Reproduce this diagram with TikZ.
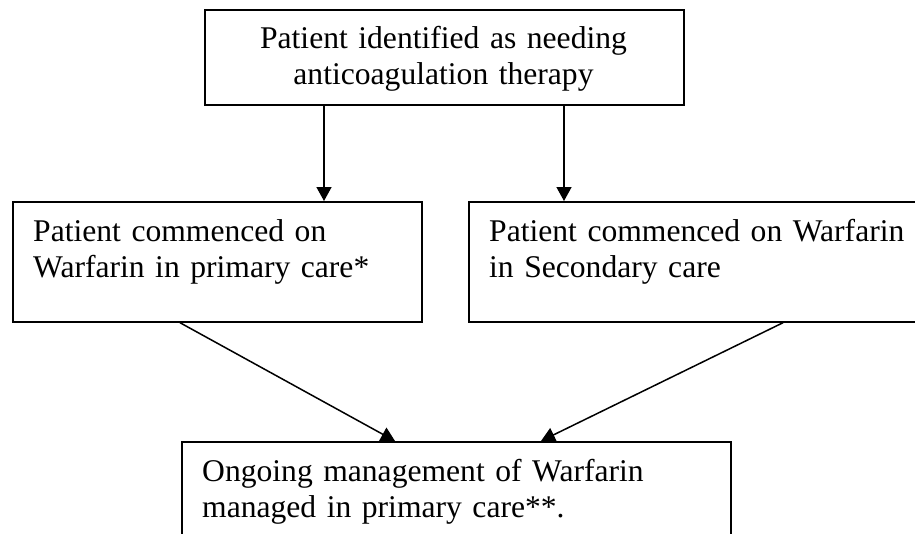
\documentclass[tikz,border=0pt]{standalone}
\usepackage{fontspec}
\setmainfont{Liberation Serif}
\usetikzlibrary{arrows.meta}
\begin{document}
\begin{tikzpicture}[x=1pt,y=-1pt,
  box/.style={draw=black, line width=1.7pt, fill=white, inner sep=0pt, anchor=north west, rectangle},
  txt/.style={inner sep=0pt, font=\fontsize{31.6}{36}\selectfont, text=black},
  arr/.style={draw=black, line width=1.5pt, -{Triangle[length=14pt,width=15pt]}}]
\useasboundingbox (0,0) rectangle (915,533);
\clip (0,0) rectangle (915,533);
\fill[white] (0,0) rectangle (915,533);
% boxes
\node[box, minimum width=479pt, minimum height=95pt] (top) at (204,9) {};
\node[box, minimum width=409pt, minimum height=120pt] (lbox) at (12,201) {};
\node[box, minimum width=492pt, minimum height=120pt] (rbox) at (468,201) {};
\node[box, minimum width=549pt, minimum height=160pt] (bbox) at (181,441) {};
% texts
\node[txt, anchor=base, text width=470pt, align=center] (ttext) at (443.5,48)
  {Patient identified as needing\\anticoagulation therapy};
\node[txt, anchor=base west, text width=385pt, align=left] (ltext) at (33,241)
  {Patient commenced on\\Warfarin in primary care*};
\node[txt, anchor=base west, text width=430pt, align=left] (rtext) at (489,241)
  {Patient commenced on Warfarin\\in Secondary care};
\node[txt, anchor=base west, text width=520pt, align=left] (btext) at (202,481)
  {Ongoing management of Warfarin\\managed in primary care**.};
% connectors
\draw[arr] ([xshift=120pt]top.south west) -- ([xshift=312pt]lbox.north west);
\draw[arr] ([xshift=360pt]top.south west) -- ([xshift=96pt]rbox.north west);
\draw[arr] ([xshift=168pt]lbox.south west) -- ([xshift=214pt]bbox.north west);
\draw[arr] ([xshift=315pt]rbox.south west) -- ([xshift=360pt]bbox.north west);
\end{tikzpicture}
\end{document}
